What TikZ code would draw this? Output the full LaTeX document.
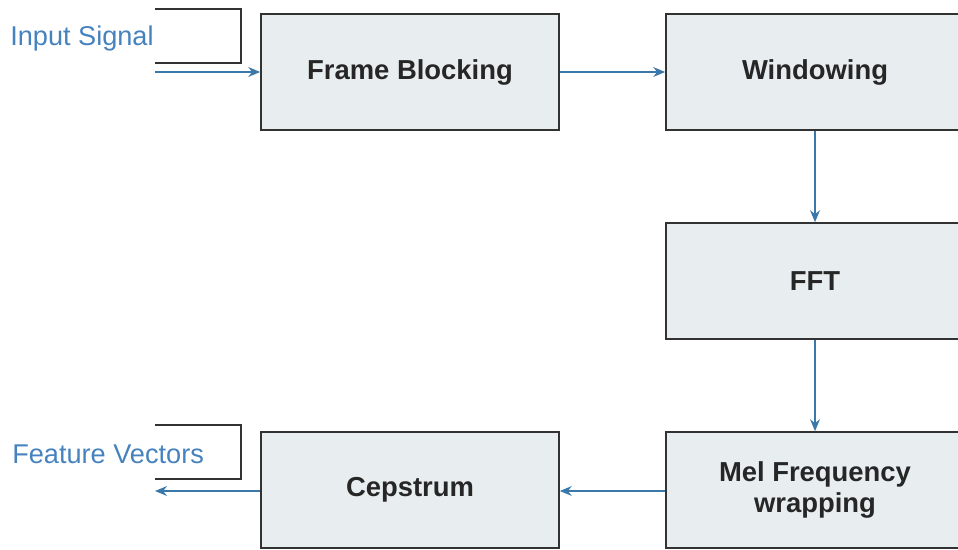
\documentclass[tikz,border=0pt]{standalone}
\usepackage{fontspec}
\setmainfont{Liberation Sans}
\usetikzlibrary{arrows.meta}
\definecolor{flowblue}{RGB}{58,120,170}
\definecolor{labelblue}{RGB}{70,130,190}
\definecolor{boxfill}{RGB}{232,238,239}
\definecolor{boxline}{RGB}{50,50,50}
\begin{document}
\begin{tikzpicture}[x=0.025cm, y=-0.025cm,
  stage/.style={draw=boxline, line width=1.1pt, fill=boxfill, minimum width=7.45cm, minimum height=2.9cm, align=center, font=\fontsize{19.5}{22}\selectfont\bfseries, text=black!85},
  flow/.style={draw=flowblue, line width=1.1pt, -{Stealth[length=8.5pt, width=7pt]}},
  signal/.style={anchor=west, inner sep=0pt, text=labelblue, font=\fontsize{19.3}{23}\selectfont},
  frame/.style={draw=boxline, line width=1.1pt}]
\useasboundingbox (0,0) rectangle (958,550);
% stages
\node[stage] (frame) at (410,72) {Frame Blocking};
\node[stage] (window) at (815,72) {Windowing};
\node[stage] (fft) at (815,281) {FFT};
\node[stage] (mel) at (815,490) {Mel Frequency\\wrapping};
\node[stage] (ceps) at (410,490) {Cepstrum};
% input and output labels
\node[signal] (insig) at (10,38) {Input Signal};
\node[signal] (feat) at (12,454) {Feature Vectors};
\draw[frame] (155,9) -- (241,9) -- (241,63) -- (155,63);
\draw[frame] (155,425) -- (241,425) -- (241,479) -- (155,479);
\coordinate (in) at (155,72);
\coordinate (out) at (155,491);
% connectors
\draw[flow] (in) -- (in -| frame.west);
\draw[flow] (frame) -- (window);
\draw[flow] (window) -- (fft);
\draw[flow] (fft) -- (mel);
\draw[flow] (mel.west |- out) -- (ceps.east |- out);
\draw[flow] (ceps.west |- out) -- (out);
\end{tikzpicture}
\end{document}
